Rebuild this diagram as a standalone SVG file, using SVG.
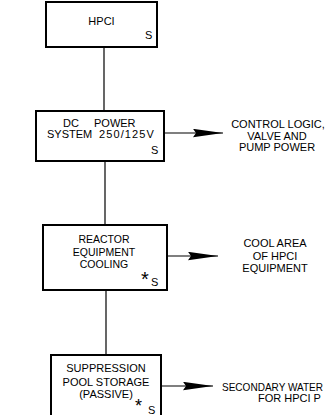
<svg xmlns="http://www.w3.org/2000/svg" width="328" height="415" viewBox="0 0 328 415">
<style>
.box{fill:#fff;stroke:#000;stroke-width:2}
.ln{fill:none;stroke:#000;stroke-width:1.2}
.t{font-family:"Liberation Sans",Arial,sans-serif;font-size:11px;fill:#000}
.s10{font-size:10.5px}
.r{font-family:"Liberation Sans",Arial,sans-serif;font-size:11px;fill:#000;text-anchor:middle}
.c{text-anchor:middle}
.ast{font-family:"Liberation Sans",Arial,sans-serif;font-size:20px;fill:#000}
</style>
<defs>
<marker id="ah" viewBox="0 0 30 9" markerWidth="30" markerHeight="9" markerUnits="userSpaceOnUse" refX="30" refY="4.5" orient="auto">
<path d="M0,0.3 L30,4.5 L0,8.7 L3,4.5 Z" fill="#000"/>
</marker>
</defs>
<rect width="328" height="415" fill="#fff"/>
<g id="connectors">
<line class="ln" x1="104" y1="47" x2="104" y2="111"/>
<line class="ln" x1="105" y1="161" x2="105" y2="225"/>
<line class="ln" x1="106" y1="290" x2="106" y2="355"/>
<line class="ln" x1="164" y1="133" x2="223" y2="133" marker-end="url(#ah)"/>
<line class="ln" x1="167" y1="256" x2="218" y2="256" marker-end="url(#ah)"/>
<line class="ln" x1="161" y1="386" x2="213" y2="386" marker-end="url(#ah)"/>
</g>
<g id="hpci">
<rect class="box" x="46" y="2" width="111" height="45"/>
<text class="t c" x="101.5" y="25">HPCI</text>
<text class="t" x="145" y="39">S</text>
</g>
<g id="dc-power">
<rect class="box" x="36" y="111" width="128" height="50"/>
<text class="t" x="63" y="127">DC</text>
<text class="t" x="94" y="127">POWER</text>
<text class="t" x="47" y="138">SYSTEM</text>
<text class="t" x="99" y="138" style="letter-spacing:1.1px">250/125V</text>
<text class="t" x="151" y="154">S</text>
</g>
<g id="dc-output">
<text class="r" x="278" y="128">CONTROL LOGIC,</text>
<text class="r" x="277" y="140">VALVE AND</text>
<text class="r" x="277" y="151">PUMP POWER</text>
</g>
<g id="reactor-cooling">
<rect class="box" x="43" y="225" width="124" height="65"/>
<text class="t c s10" x="104" y="243">REACTOR</text>
<text class="t c s10" x="104" y="255.5">EQUIPMENT</text>
<text class="t c s10" x="104" y="268">COOLING</text>
<text class="ast" x="141" y="286">*</text>
<text class="t" x="151" y="286">S</text>
</g>
<g id="cooling-output">
<text class="r" x="275" y="247">COOL AREA</text>
<text class="r" x="275" y="259.5">OF HPCI</text>
<text class="r" x="275" y="272">EQUIPMENT</text>
</g>
<g id="suppression-pool">
<rect class="box" x="51" y="355" width="110" height="70"/>
<text class="t c" x="106" y="372">SUPPRESSION</text>
<text class="t c" x="106" y="386">POOL STORAGE</text>
<text class="t c" x="106" y="398">(PASSIVE)</text>
<text class="ast" x="135" y="412" style="font-size:18px">*</text>
<text class="t" x="148" y="414">S</text>
</g>
<g id="pool-output">
<text class="t" x="222" y="391" style="font-size:10.5px" textLength="101" lengthAdjust="spacingAndGlyphs">SECONDARY WATER</text>
<text class="t" x="258" y="402">FOR HPCI P</text>
</g>
</svg>
